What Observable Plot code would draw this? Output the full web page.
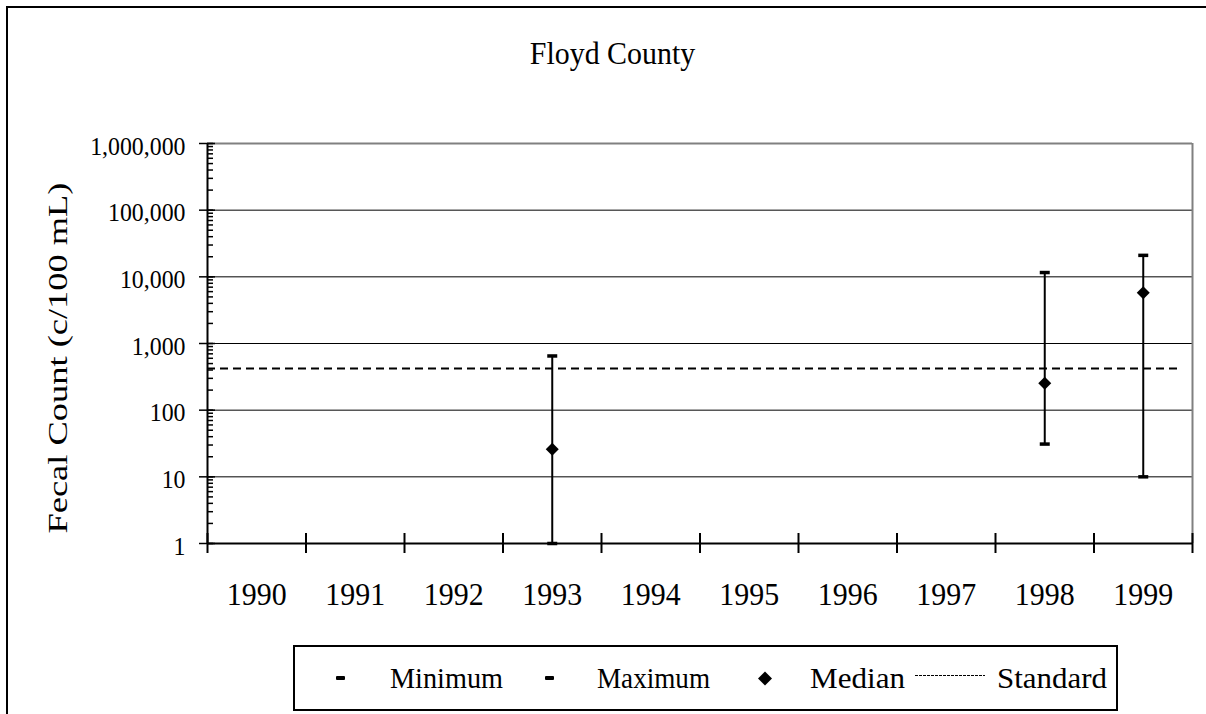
<!DOCTYPE html>
<html><head><meta charset="utf-8">
<script src="https://cdn.jsdelivr.net/npm/d3@7"></script>
<script src="https://cdn.jsdelivr.net/npm/@observablehq/plot@0.6"></script>
<style>
html,body{margin:0;padding:0;background:#fff;overflow:hidden;width:1206px;height:714px}
#wrap{position:relative;width:1206px;height:714px;overflow:hidden;background:#fff}
#chart{position:absolute;left:0;top:0}
#legend{position:absolute;left:0;top:0}
svg text{font-family:"Liberation Serif","Times New Roman",Tinos,serif !important}
</style></head><body>
<div id="wrap"><div id="chart"></div><svg id="legend" width="1206" height="714"></svg></div>
<script>
const title = "Floyd County";
const yLabel = "Fecal Count (c/100 mL)";
const years = [1990, 1991, 1992, 1993, 1994, 1995, 1996, 1997, 1998, 1999];
const sampleYears = [1993, 1998, 1999];
const minimum = [1, 31, 10];
const maximum = [650, 11600, 21000];
const median = [26, 254, 5750];
const standard = 420;
const standardSpan = [1989.5, 1999.37];
const yTicks = [1, 10, 100, 1000, 10000, 100000, 1000000];
const yTickLabels = ["1", "10", "100", "1,000", "10,000", "100,000", "1,000,000"];
const legendLabels = ["Minimum", "Maximum", "Median", "Standard"];

const rows = sampleYears.map((year, i) => ({year, min: minimum[i], max: maximum[i], median: median[i]}));
const boundaries = years.map(y => y - 0.5).concat([years[years.length - 1] + 0.5]);
const minorTicks = d3.scaleLog().domain([yTicks[0], yTicks[yTicks.length - 1]]).ticks();

const capSymbol = {draw(ctx) { ctx.moveTo(-5, -1.75); ctx.lineTo(5, -1.75); ctx.lineTo(5, 1.75); ctx.lineTo(-5, 1.75); ctx.closePath(); }};
const squeeze = 0.935; // glyphs in the reference are slightly condensed horizontally

const chart = Plot.plot({
  width: 1206, height: 714,
  marginLeft: 207, marginRight: 14, marginTop: 143, marginBottom: 171,
  style: {fontFamily: "'Liberation Serif', 'Times New Roman', serif", color: "black", background: "transparent"},
  x: {type: "linear", domain: [boundaries[0], boundaries[boundaries.length - 1]]},
  y: {type: "log", domain: [yTicks[0], yTicks[yTicks.length - 1]]},
  marks: [
    Plot.ruleY(yTicks.slice(1, -1), {stroke: "black", strokeWidth: 1}),
    Plot.ruleY([yTicks[yTicks.length - 1]], {stroke: "#808080", strokeWidth: 2}),
    Plot.ruleX([boundaries[boundaries.length - 1]], {stroke: "#808080", strokeWidth: 2}),
    Plot.ruleY([{y: standard, x1: standardSpan[0], x2: standardSpan[1]}], {y: "y", x1: "x1", x2: "x2", stroke: "black", strokeWidth: 2, strokeDasharray: "8,5"}),
    Plot.ruleX(rows, {x: "year", y1: "min", y2: "max", stroke: "black", strokeWidth: 2}),
    Plot.dot(rows, {x: "year", y: "min", symbol: capSymbol, fill: "black", stroke: null, r: 5}),
    Plot.dot(rows, {x: "year", y: "max", symbol: capSymbol, fill: "black", stroke: null, r: 5}),
    Plot.dot(rows, {x: "year", y: "median", symbol: "diamond2", fill: "black", stroke: null, r: 5.85}),
    Plot.ruleX([boundaries[0]], {stroke: "black", strokeWidth: 2}),
    Plot.ruleY([yTicks[0]], {stroke: "black", strokeWidth: 2}),
    Plot.axisX({ticks: boundaries, tickSize: 20, dy: -10, tickFormat: () => "", label: null, strokeWidth: 2}),
    Plot.axisX({ticks: years, tickSize: 0, tickPadding: 39, tickFormat: d => String(d), fontSize: 32, label: null}),
    Plot.axisY({ticks: minorTicks, tickSize: 6, dx: 6, tickFormat: () => "", label: null, strokeWidth: 1.5}),
    Plot.axisY({ticks: yTicks, tickSize: 16, dx: 8, tickFormat: () => "", label: null, strokeWidth: 1.5}),
    Plot.axisY({ticks: yTicks, tickSize: 0, tickPadding: 22, tickFormat: d => yTickLabels[yTicks.indexOf(d)], fontSize: 25.5, dy: 3, label: null}),
    Plot.text([title], {frameAnchor: "top", dx: -87.5, dy: -80, lineAnchor: "bottom", fontSize: 32, fill: "black"}),
    Plot.text([yLabel], {frameAnchor: "left", rotate: -90, dx: -141, dy: 14.5, lineAnchor: "bottom", textAnchor: "middle", fontSize: 28, fill: "black"})
  ]
});
document.getElementById("chart").appendChild(chart);
d3.select(chart).selectAll("text").each(function() {
  const t = this.textContent;
  if (!t) return;
  if (t === yLabel) {
    d3.select(this).attr("textLength", 351).attr("lengthAdjust", "spacingAndGlyphs");
  } else {
    const w = this.getComputedTextLength();
    d3.select(this).attr("textLength", (w * squeeze).toFixed(2)).attr("lengthAdjust", "spacingAndGlyphs");
  }
});

// outer frame and legend
const lg = d3.select("#legend");
lg.append("path").attr("d", "M7,714V7H1206").attr("fill", "none").attr("stroke", "black").attr("stroke-width", 2);
lg.append("rect").attr("x", 294).attr("y", 646).attr("width", 823).attr("height", 64)
  .attr("fill", "white").attr("stroke", "black").attr("stroke-width", 2);
const textX = [390, 597, 810, 997];
const textW = [113, 113, 95, 110];
legendLabels.forEach((t, i) => {
  lg.append("text").attr("x", textX[i]).attr("y", 688).attr("font-size", 30)
    .attr("textLength", textW[i]).attr("lengthAdjust", "spacingAndGlyphs").text(t);
});
lg.append("rect").attr("x", 336).attr("y", 676).attr("width", 9).attr("height", 4).attr("rx", 1).attr("fill", "black");
lg.append("rect").attr("x", 545).attr("y", 676).attr("width", 9).attr("height", 4).attr("rx", 1).attr("fill", "black");
lg.append("path").attr("d", "M765,671.5L772,678.5L765,685.5L758,678.5Z").attr("fill", "black");
lg.append("line").attr("x1", 915).attr("x2", 985).attr("y1", 675.5).attr("y2", 675.5)
  .attr("stroke", "black").attr("stroke-width", 1.2).attr("stroke-dasharray", "3,1");
</script>
</body></html>
